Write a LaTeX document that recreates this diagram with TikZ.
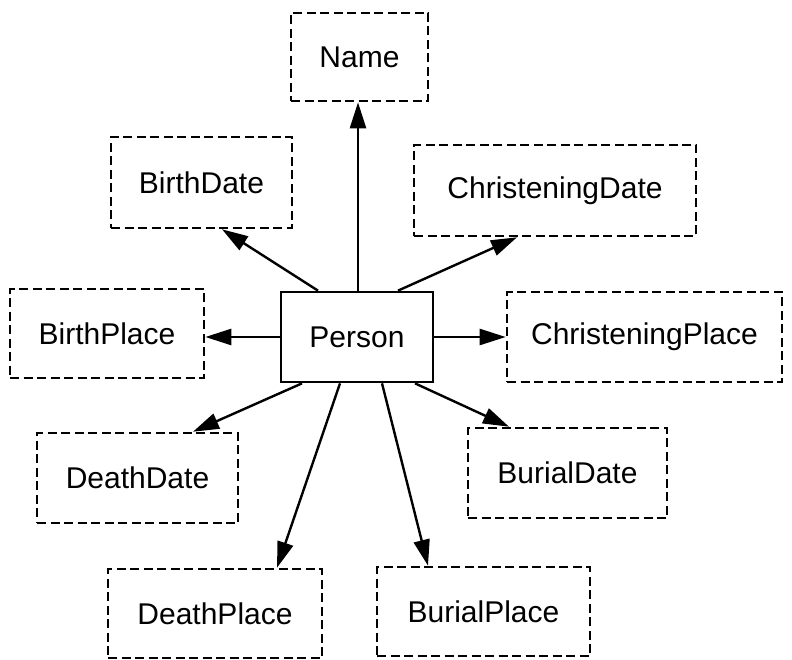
\documentclass[tikz,border=0pt]{standalone}
\usepackage{fontspec}
\setmainfont{Liberation Sans}
\usetikzlibrary{arrows.meta}
\begin{document}
\begin{tikzpicture}[x=1pt,y=-1pt,
  boxbase/.style={inner sep=0pt, font=\fontsize{30}{36}\selectfont},
  attr/.style={boxbase, draw, dash pattern=on 9pt off 4.5pt, line width=2.6pt},
  ent/.style={boxbase, draw, line width=2.7pt},
  link/.style={line width=2.4pt, -{Triangle[length=26pt,width=16pt]}}]
\useasboundingbox (0,0) rectangle (792,660);
\node[ent, minimum width=152pt, minimum height=90pt] (person) at (357,337) {Person};
\node[attr, minimum width=137pt, minimum height=88pt] (name) at (359.5,57) {Name};
\node[attr, minimum width=181pt, minimum height=91pt] (bdate) at (201.5,182.5) {BirthDate};
\node[attr, minimum width=282pt, minimum height=91pt] (cdate) at (555,190.5) {ChristeningDate};
\node[attr, minimum width=194pt, minimum height=89pt] (bplace) at (107,333.5) {BirthPlace};
\node[attr, minimum width=275pt, minimum height=90pt] (cplace) at (644.5,337) {ChristeningPlace};
\node[attr, minimum width=201pt, minimum height=90pt] (ddate) at (137.5,478) {DeathDate};
\node[attr, minimum width=199pt, minimum height=90pt] (budate) at (567.5,473) {BurialDate};
\node[attr, minimum width=214pt, minimum height=89pt] (dplace) at (215,613.5) {DeathPlace};
\node[attr, minimum width=213pt, minimum height=89pt] (buplace) at (483.5,611.5) {BurialPlace};

\draw[link] ([xshift=1pt]person.north) -- ([xshift=1pt]person.north |- name.south);
\draw[link] ([xshift=-39pt]person.north) -- ([xshift=20.5pt]bdate.south);
\draw[link] ([xshift=41pt]person.north) -- ([xshift=-38pt]cdate.south);
\draw[link] (person.west) -- (person.west -| bplace.east);
\draw[link] (person.east) -- (person.east -| cplace.west);
\draw[link] ([xshift=-55pt]person.south) -- ([xshift=55.5pt]ddate.north);
\draw[link] ([xshift=-17pt]person.south) -- ([xshift=62pt]dplace.north);
\draw[link] ([xshift=25pt]person.south) -- ([xshift=-55.5pt]buplace.north);
\draw[link] ([xshift=58pt]person.south) -- ([xshift=-58.5pt]budate.north);
\end{tikzpicture}
\end{document}
